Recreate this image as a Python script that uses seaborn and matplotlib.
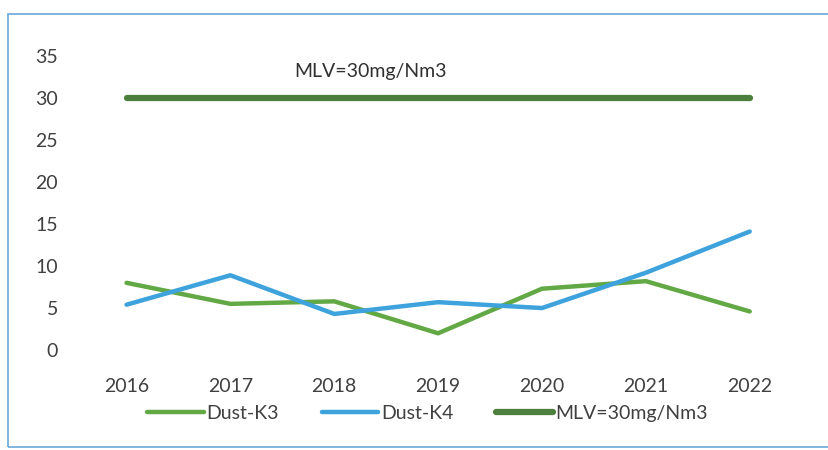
import matplotlib
matplotlib.use("Agg")
import matplotlib.pyplot as plt
import seaborn as sns
import pandas as pd
from matplotlib.patches import Rectangle

years = ["2016", "2017", "2018", "2019", "2020", "2021", "2022"]
dust_k3 = [8.0, 5.5, 5.8, 2.0, 7.3, 8.2, 4.6]
dust_k4 = [5.4, 8.9, 4.3, 5.7, 5.0, 9.2, 14.1]
mlv = [30, 30, 30, 30, 30, 30, 30]
y_ticks = [0, 5, 10, 15, 20, 25, 30, 35]

sns.set_theme(style="white")
plt.rcParams['font.family'] = ['Lato', 'DejaVu Sans']

df = pd.DataFrame({"Year": years, "Dust-K3": dust_k3, "Dust-K4": dust_k4,
                   "MLV=30mg/Nm3": mlv})

fig = plt.figure(figsize=(8.29, 4.5), dpi=100)
ax = fig.add_axes([0.09, 0.222, 0.877, 0.654])

sns.lineplot(data=df, x="Year", y="Dust-K3", ax=ax, color="#62a844",
             linewidth=3.2, label="Dust-K3", sort=False)
sns.lineplot(data=df, x="Year", y="Dust-K4", ax=ax, color="#3ea3dd",
             linewidth=3.2, label="Dust-K4", sort=False)
sns.lineplot(data=df, x="Year", y="MLV=30mg/Nm3", ax=ax, color="#4b7f3b",
             linewidth=4.5, label="MLV=30mg/Nm3", sort=False)

ax.set_xlim(-0.5, len(years) - 0.5)
ax.set_ylim(0, 35)
ax.set_yticks(y_ticks)
ax.set_xlabel("")
ax.set_ylabel("")
for s in ax.spines.values():
    s.set_visible(False)
ax.tick_params(axis="x", length=0, pad=20, labelsize=14, labelcolor="#404040")
ax.tick_params(axis="y", length=0, pad=12, labelsize=14, labelcolor="#404040")
ax.grid(False)

ax.text(2.35, 33.1, "MLV=30mg/Nm3", ha="center", va="center",
        fontsize=14, color="#303030")

ax.legend(loc="center", bbox_to_anchor=(0.516, 0.082),
          bbox_transform=fig.transFigure, ncol=3, frameon=False,
          fontsize=14, handlelength=2.9, handletextpad=0.15,
          columnspacing=2.2, labelcolor="#404040")

fig.patches.append(Rectangle((8 / 829, 3 / 450), 1.2, 433 / 450,
                             transform=fig.transFigure, fill=False,
                             edgecolor="#6aa8d8", linewidth=1.2))

fig.savefig("out.png", dpi=100)
